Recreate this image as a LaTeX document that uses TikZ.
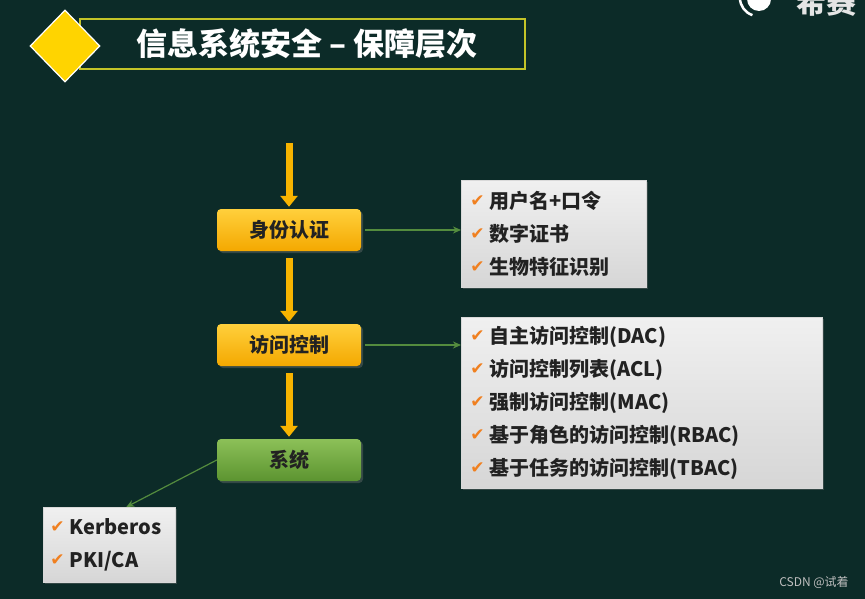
\documentclass[tikz,border=0pt]{standalone}
\usepackage{fontspec}
\setmainfont{Noto Sans CJK SC}
\newfontfamily\symfont{DejaVu Sans}
\usetikzlibrary{arrows.meta,shadows,shapes.geometric}

\definecolor{bgcol}{RGB}{12,43,40}
\definecolor{framecol}{RGB}{196,196,40}
\definecolor{diamcol}{RGB}{255,212,0}
\definecolor{flowcol}{RGB}{247,180,0}
\definecolor{stagetop}{RGB}{255,208,60}
\definecolor{stagebot}{RGB}{244,168,0}
\definecolor{systop}{RGB}{140,192,88}
\definecolor{sysbot}{RGB}{92,148,48}
\definecolor{linkcol}{RGB}{84,140,62}
\definecolor{chkcol}{RGB}{240,128,32}
\definecolor{txtcol}{RGB}{34,34,34}
\definecolor{listtop}{RGB}{240,240,240}
\definecolor{listbot}{RGB}{214,214,214}

\newcommand{\chk}{{\color{chkcol}\symfont\fontsize{17}{17}\selectfont\raisebox{2pt}{✔}}\hspace{5pt}}

\tikzset{
  stage/.style={rounded corners=4pt, top color=stagetop, bottom color=stagebot,
    minimum width=144pt, minimum height=42pt, inner sep=0pt, text=txtcol,
    font=\bfseries\fontsize{20}{20}\selectfont,
    drop shadow={opacity=0.35, shadow xshift=2pt, shadow yshift=-2pt}},
  sysbox/.style={stage, top color=systop, bottom color=sysbot},
  listbox/.style={anchor=north west, top color=listtop, bottom color=listbot,
    draw=white!85!black, line width=0.6pt, inner xsep=9pt, inner ysep=0pt,
    align=left, text=txtcol, font=\bfseries\fontsize{20}{33}\selectfont,
    drop shadow={opacity=0.35, shadow xshift=2pt, shadow yshift=-2pt}},
  flow/.style={draw=flowcol, line width=7pt, -{Triangle[width=17pt,length=11pt]}},
  link/.style={draw=linkcol, line width=1.2pt, -{Stealth[length=8pt,width=7pt]}}
}

\begin{document}
\begin{tikzpicture}[x=1pt, y=-1pt]
  \fill[bgcol] (0,0) rectangle (865,599);
  \useasboundingbox (0,0) rectangle (865,599);

  % logo, cut at the top
  \draw[white, line width=2.5pt] (740,-2) arc (180:108:18);
  \fill[white] (759,-1) circle (12);
  \node[text=white!90!black, font=\bfseries\fontsize{30}{30}\selectfont] (logo) at (826,2) {希赛};

  % title
  \draw[framecol, line width=2pt] (80,19) rectangle (525,69);
  \node[diamond, fill=diamcol, draw=white, line width=1.2pt, minimum width=70pt,
        minimum height=72pt, inner sep=0pt] (diam) at (65,46) {};
  \node[anchor=west, text=white, font=\bfseries\fontsize{31}{31}\selectfont] (title) at (133,44)
    {信息系统安全 – 保障层次};

  % flow
  \coordinate (start) at (289,143);
  \node[stage] (auth) at (289,230) {身份认证};
  \node[stage] (acc) at (289,345) {访问控制};
  \node[sysbox] (sys) at (289,460) {系统};

  \draw[flow, shorten >=2pt] (start) -- (auth);
  \draw[flow, shorten <=7pt, shorten >=2pt] (auth) -- (acc);
  \draw[flow, shorten <=7pt, shorten >=2pt] (acc) -- (sys);

  % lists
  \node[listbox, text width=167pt, minimum height=107pt] (lista) at (461,180)
    {\chk 用户名+口令\\ \chk 数字证书\\ \chk 生物特征识别};
  \node[listbox, text width=343pt, minimum height=171pt] (listb) at (461,317)
    {\chk 自主访问控制(DAC)\\ \chk 访问控制列表(ACL)\\ \chk 强制访问控制(MAC)\\
     \chk 基于角色的访问控制(RBAC)\\ \chk 基于任务的访问控制(TBAC)};
  \node[listbox, text width=118pt, minimum height=75pt, inner xsep=7pt] (listc) at (43,507)
    {\chk Kerberos\\ \chk PKI/CA};

  \draw[link, shorten <=4pt] (auth.east) -- (auth.east -| lista.west);
  \draw[link, shorten <=4pt] (acc.east) -- (acc.east -| listb.west);
  \draw[link] (sys.west) -- ([xshift=17pt]listc.north);

  \node[text=white!75!black, font=\fontsize{12}{12}\selectfont] (mark) at (814,582) {CSDN @试着};
\end{tikzpicture}
\end{document}
